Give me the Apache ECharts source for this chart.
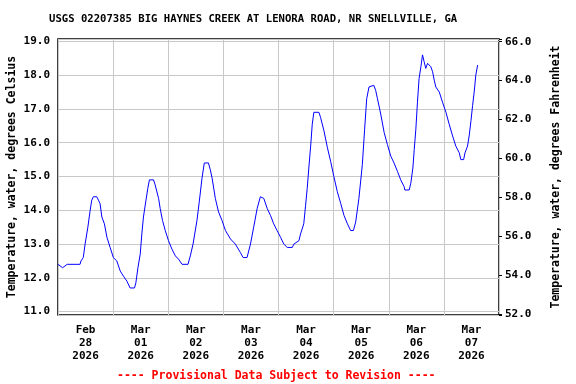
<!DOCTYPE html>
<html>
<head>
<meta charset="utf-8">
<script src="https://cdn.jsdelivr.net/npm/echarts@6/dist/echarts.min.js"></script>
<style>html,body{margin:0;padding:0;background:#fff}#c{width:576px;height:384px}</style>
</head>
<body>
<div id="c"></div>
<script>
// hours since Feb 28 2026 00:00
var hours = [0,2,4,9.6,10,11,11.8,13,14,14.7,
15.4,16.9,17.6,18.3,19.1,20.2,21.3,22.7,24.1,25.6,
27.1,28.5,30,31.4,33.3,33.9,34.8,35.8,36.5,37.2,
38.3,39.1,39.8,41.6,42.3,43.8,44.5,45.5,46.7,48.1,
49.6,51.1,52.5,54,56.6,57.6,58.8,60.5,61.5,62.7,
63.7,65.5,66.3,67.1,68.5,69.9,71.4,72.9,75.1,77.2,
79.4,80.6,82.3,83.8,85.2,86.7,88.1,89.6,91.1,92.5,
93.9,95.4,96.9,98.3,99.8,102,102.7,104.9,105.6,107,
107.8,108.5,109.2,110,110.7,111.4,113.6,114.3,115.8,117.3,
118.7,120.1,121.6,123.1,124.5,126,127.4,128.6,129.6,131,
132.5,133.5,134.4,135.4,136.1,137.5,138.3,139.1,140.5,142,
143.4,144.9,146.3,147.8,149.2,150.7,151,152.9,153.6,154.5,
155.1,155.8,156.5,157.2,158,158.7,159.4,160.1,160.9,161.6,
162.3,163.1,163.8,164.5,166,167.4,168.9,170.3,171.8,173.2,
174.7,175.4,176.6,177.2,178.3,179,179.8,180.5,181.2,181.9,182.7];
// water temperature, degrees Celsius
var tempC = [12.4,12.3,12.4,12.4,12.5,12.6,13.0,13.5,14.0,14.3,
14.4,14.4,14.3,14.2,13.8,13.6,13.2,12.9,12.6,12.5,
12.2,12.05,11.9,11.7,11.7,11.85,12.3,12.7,13.3,13.8,
14.3,14.65,14.9,14.9,14.75,14.35,14.05,13.7,13.4,13.1,
12.85,12.65,12.55,12.4,12.4,12.65,13.0,13.7,14.25,14.95,
15.4,15.4,15.2,14.95,14.35,13.95,13.7,13.4,13.15,13.0,
12.75,12.6,12.6,13.0,13.5,14.05,14.4,14.35,14.05,13.85,
13.6,13.4,13.2,13.0,12.9,12.9,13.0,13.1,13.3,13.6,
14.15,14.65,15.25,15.9,16.55,16.9,16.9,16.75,16.35,15.85,
15.45,15.0,14.55,14.2,13.85,13.6,13.4,13.4,13.65,14.35,
15.35,16.4,17.3,17.65,17.7,17.7,17.55,17.3,16.85,16.3,
15.95,15.6,15.4,15.15,14.9,14.7,14.6,14.6,14.8,15.25,
15.8,16.4,17.2,17.9,18.25,18.6,18.4,18.2,18.35,18.35,
18.25,18.1,17.85,17.65,17.5,17.2,16.9,16.55,16.2,15.9,
15.7,15.5,15.5,15.7,15.9,16.2,16.65,17.1,17.5,18.0,18.3];
var dayLabels = ['Feb\n28\n2026','Mar\n01\n2026','Mar\n02\n2026','Mar\n03\n2026','Mar\n04\n2026','Mar\n05\n2026','Mar\n06\n2026','Mar\n07\n2026'];
var titleText = 'USGS 02207385 BIG HAYNES CREEK AT LENORA ROAD, NR SNELLVILLE, GA';
var noteText = '---- Provisional Data Subject to Revision ----';
var leftName = 'Temperature, water, degrees Celsius';
var rightName = 'Temperature, water, degrees Fahrenheit';

var FONT = '"DejaVu Sans Mono", monospace';
var data = hours.map(function(h,i){return [h,tempC[i]];});
var chart = echarts.init(document.getElementById('c'), null, {renderer:'canvas'});
chart.setOption({
  animation:false,
  backgroundColor:'#fff',
  title:[
    {text:titleText,left:44,top:9,textStyle:{fontFamily:FONT,fontSize:10.6,fontWeight:'bold',color:'#000'}},
    {text:noteText,left:112,top:365,textStyle:{fontFamily:FONT,fontSize:11.5,fontWeight:'bold',color:'#ff0000'}}
  ],
  grid:{left:58,right:77,top:39,bottom:69,show:true,borderColor:'#000',borderWidth:1.5,backgroundColor:'transparent',containLabel:false,outerBoundsMode:'none'},
  xAxis:[
    {type:'value',min:0,max:192,interval:24,position:'bottom',
     axisLine:{show:false},axisTick:{show:false},axisLabel:{show:false},
     splitLine:{show:true,lineStyle:{color:'#c8c8c8',width:1}}},
    {type:'category',data:dayLabels,boundaryGap:true,position:'bottom',
     axisLine:{show:false},axisTick:{show:false},splitLine:{show:false},
     axisLabel:{interval:0,margin:9,fontFamily:FONT,fontSize:11,fontWeight:'bold',color:'#000',lineHeight:13}}
  ],
  yAxis:[
    {type:'value',min:10.9,max:19.07,splitNumber:8,position:'left',
     name:leftName,nameLocation:'middle',nameGap:40,nameRotate:90,nameMoveOverlap:false,
     nameTextStyle:{fontFamily:FONT,fontSize:11.5,fontWeight:'bold',color:'#000'},
     axisLine:{show:false},axisTick:{show:false},
     axisLabel:{margin:8,fontFamily:FONT,fontSize:11,fontWeight:'bold',color:'#000',
       formatter:function(v){return Math.abs(v-Math.round(v))<1e-6?v.toFixed(1):'';}},
     splitLine:{show:true,lineStyle:{color:'#c8c8c8',width:1}}},
    {type:'value',min:51.95,max:66.14,splitNumber:7,position:'right',
     name:rightName,nameLocation:'middle',nameGap:51,nameRotate:90,
     nameTextStyle:{fontFamily:FONT,fontSize:11.5,fontWeight:'bold',color:'#000'},
     axisLine:{show:false},
     axisTick:{show:true,length:3,lineStyle:{color:'#000'}},
     axisLabel:{margin:6,fontFamily:FONT,fontSize:11,fontWeight:'bold',color:'#000',
       formatter:function(v){var r=Math.round(v);return (Math.abs(v-r)<1e-6 && r%2===0)?r.toFixed(1):'';}},
     splitLine:{show:false}}
  ],
  series:[{type:'line',xAxisIndex:0,yAxisIndex:0,data:data,showSymbol:false,symbol:'none',
    lineStyle:{color:'#0000ff',width:1},z:3}]
});
</script>
</body>
</html>
